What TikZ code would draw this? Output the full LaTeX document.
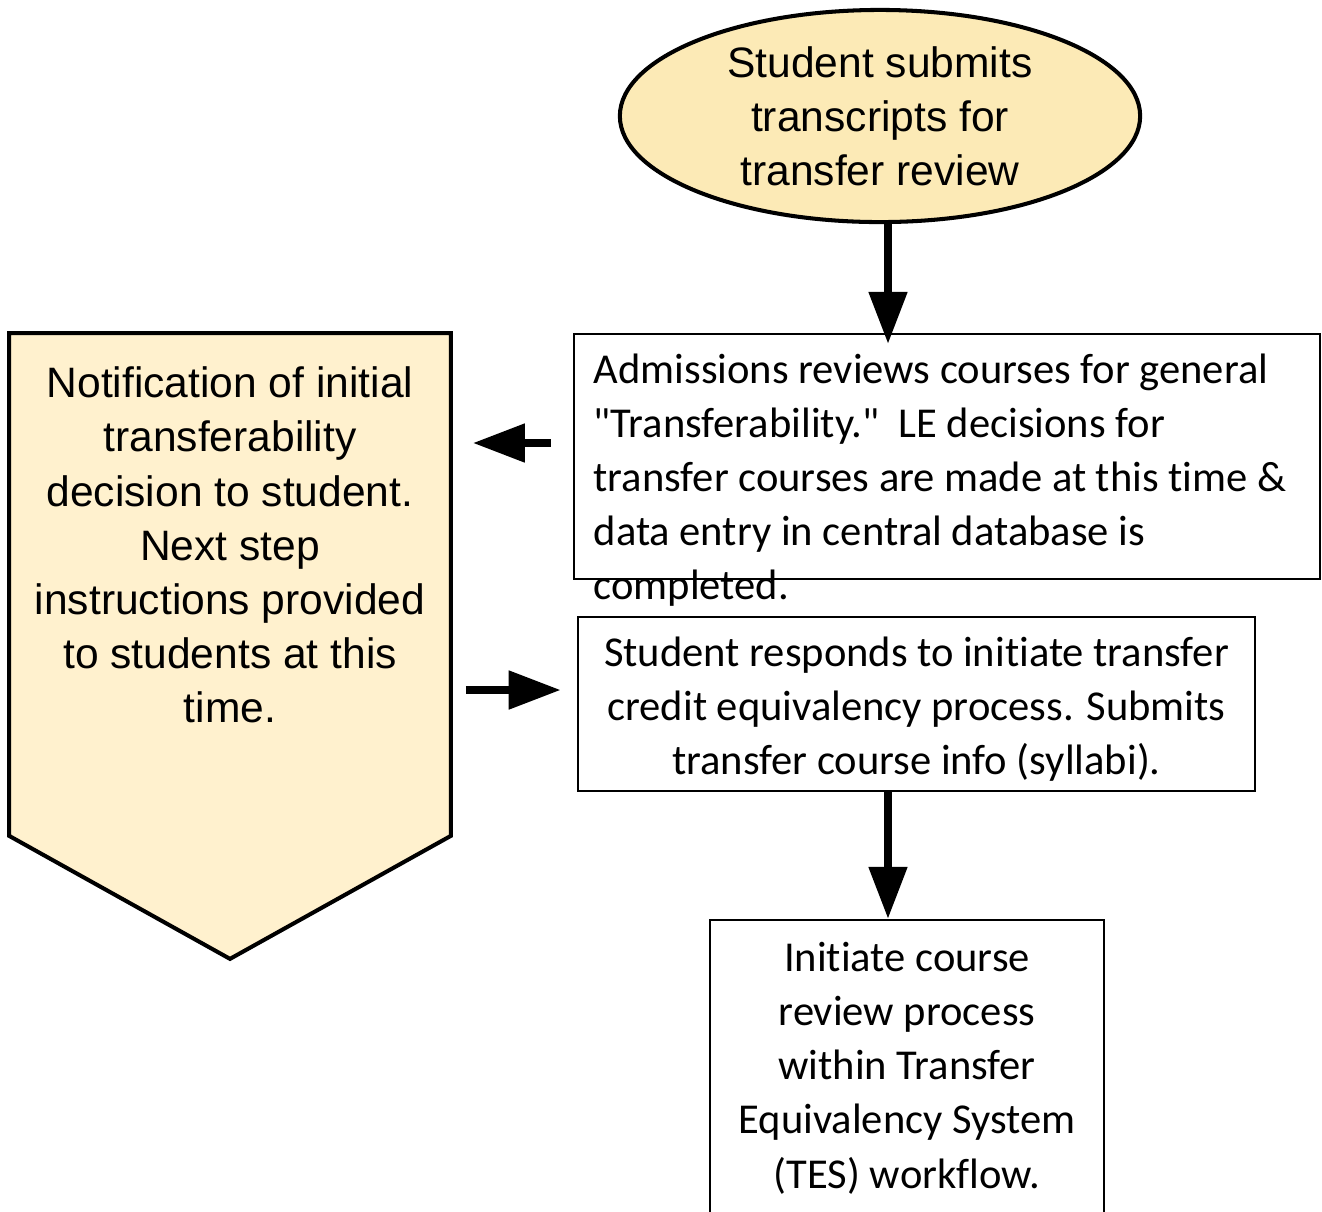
\documentclass[tikz,border=0pt]{standalone}
\usepackage{fontspec}
\setmainfont{Carlito}[Ligatures={TeXOff,NoCommon}]
\newfontfamily\arialfont{Liberation Sans}
\usetikzlibrary{arrows.meta,shapes,calc}
\definecolor{startfill}{RGB}{252,234,182}
\definecolor{notefill}{RGB}{255,241,206}
\newcommand{\thickb}{1.15pt}
\newcommand{\thinb}{0.6pt}

\begin{document}
\begin{tikzpicture}[x=0.01cm,y=-0.01cm]
            \tikzset{
                txt/.style = {font=\fontsize{12.1pt}{15.4pt}\selectfont, inner sep=0pt},
                arialtxt/.style = {font=\arialfont\fontsize{12.1pt}{15.4pt}\selectfont, inner sep=0pt},
                startnode/.style = {ellipse, draw, line width=\thickb, fill=startfill, arialtxt, align=center,
                                    minimum width=5.2cm, minimum height=2.12cm},
                boxnode/.style = {rectangle, draw, line width=\thinb, txt, align=center},
                noteshape/.style = {draw, line width=\thickb, fill=notefill, line join=miter},
                flow/.style = {line width=2.3pt, -{Triangle[width=0.37cm,length=0.52cm]}}
            }
            \useasboundingbox (0,0) rectangle (1322,1211);
            
            \node[startnode] (submit) at (880,116) {Student submits\\transcripts for\\transfer review};
            
            \node[boxnode, minimum width=7.46cm, minimum height=2.45cm] (admit) at (947,456.5) {};
            \node[txt, anchor=west, align=left] (admittext) at (593,480)
                {Admissions reviews courses for general\\
                 "Transferability."\ \ LE decisions for\\
                 transfer courses are made at this time \&\\
                 data entry in central database is\\
                 completed.};
            
            \node[boxnode, minimum width=6.77cm, minimum height=1.74cm] (respond) at (916.5,704) {};
            \node[txt, align=center] (respondtext) at (916.5,709)
                {Student responds to initiate transfer\\credit equivalency process. Submits\\transfer course info (syllabi).};
            
            \node[boxnode, minimum width=3.94cm, minimum height=2.96cm] (tes) at (907,1068)
                {Initiate course\\review process\\within Transfer\\Equivalency System\\(TES) workflow.};
            
            \node[minimum width=4.4cm, minimum height=5.01cm, inner sep=0pt] (notify) at (230,584.5) {};
            \filldraw[noteshape] (notify.north west) -- (notify.north east) -- (notify.south east)
                -- ($(notify.south)+(0,123)$) -- (notify.south west) -- cycle;
            \node[arialtxt, align=center] (notifytext) at (230,545)
                {Notification of initial\\transferability\\decision to student.\\Next step\\instructions provided\\to students at this\\time.};
            
            \draw[flow, shorten >=-0.11cm] ([xshift=0.08cm]submit.south) -- ([xshift=0.08cm]submit.south |- admit.north);
            \draw[flow, shorten <=0.22cm, shorten >=0.22cm] ([yshift=0.135cm]admit.west) -- ([yshift=0.135cm]admit.west -| notify.east);
            \draw[flow, shorten <=0.15cm, shorten >=0.16cm] ([yshift=0.14cm]respond.west -| notify.east) -- ([yshift=0.14cm]respond.west);
            \draw[flow] ([xshift=-0.285cm]respond.south) -- ([xshift=-0.285cm]respond.south |- tes.north);
        \end{tikzpicture}
\end{document}
